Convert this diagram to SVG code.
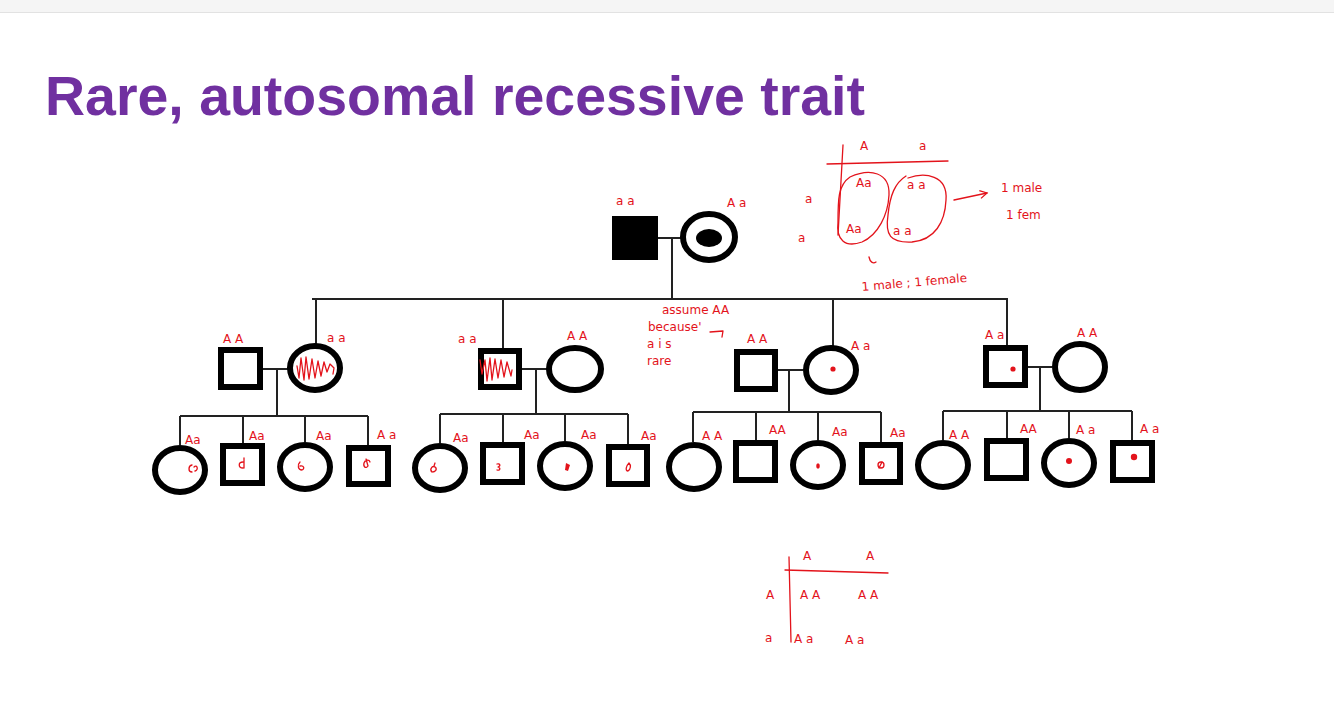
<svg xmlns="http://www.w3.org/2000/svg" width="1334" height="724" viewBox="0 0 1334 724">
<style>
.node{fill:#fff;stroke:#000;stroke-width:6}
.line{stroke:#222;stroke-width:2;fill:none}
.hw{font-family:"DejaVu Sans",sans-serif;font-size:12px;fill:#e3131b}
.ink{stroke:#e3131b;stroke-width:1.3;fill:none;stroke-linecap:round;stroke-linejoin:round}
.dot{fill:#e3131b}
</style>
<defs>
<marker id="arr" markerWidth="10" markerHeight="10" refX="8" refY="5" orient="auto" markerUnits="userSpaceOnUse">
<path d="M1 1 L8 5 L1 9" fill="none" stroke="#e3131b" stroke-width="1.3"/>
</marker>
</defs>
<rect x="0" y="0" width="1334" height="724" fill="#fff"/>
<rect x="0" y="0" width="1334" height="12" fill="#f5f5f5"/>
<line x1="0" y1="12.5" x2="1334" y2="12.5" stroke="#e2e2e2" stroke-width="1"/>
<text x="45" y="115" font-family="Liberation Sans, Arial, sans-serif" font-weight="bold" font-size="56" fill="#7030A0" textLength="820" lengthAdjust="spacingAndGlyphs">Rare, autosomal recessive trait</text>

<g id="connectors">
<line class="line" x1="658" y1="238" x2="682" y2="238"/>
<line class="line" x1="672" y1="238" x2="672" y2="299"/>
<line class="line" x1="312" y1="299" x2="1008" y2="299"/>
<line class="line" x1="316" y1="299" x2="316" y2="344"/>
<line class="line" x1="503" y1="299" x2="503" y2="348"/>
<line class="line" x1="833" y1="299" x2="833" y2="346"/>
<line class="line" x1="1007" y1="299" x2="1007" y2="345"/>
<line class="line" x1="263" y1="369" x2="288" y2="369"/>
<line class="line" x1="277" y1="369" x2="277" y2="416"/>
<line class="line" x1="522" y1="369" x2="547" y2="369"/>
<line class="line" x1="536" y1="369" x2="536" y2="414"/>
<line class="line" x1="778" y1="370" x2="803" y2="370"/>
<line class="line" x1="789" y1="370" x2="789" y2="412"/>
<line class="line" x1="1028" y1="367" x2="1052" y2="367"/>
<line class="line" x1="1040" y1="367" x2="1040" y2="411"/>
<line class="line" x1="180" y1="416" x2="368" y2="416"/>
<line class="line" x1="180" y1="416" x2="180" y2="445"/>
<line class="line" x1="243" y1="416" x2="243" y2="443"/>
<line class="line" x1="305" y1="416" x2="305" y2="442"/>
<line class="line" x1="368" y1="416" x2="368" y2="445"/>
<line class="line" x1="440" y1="414" x2="440" y2="443"/>
<line class="line" x1="440" y1="414" x2="628" y2="414"/>
<line class="line" x1="503" y1="414" x2="503" y2="442"/>
<line class="line" x1="565" y1="414" x2="565" y2="441"/>
<line class="line" x1="628" y1="414" x2="628" y2="444"/>
<line class="line" x1="693" y1="412" x2="881" y2="412"/>
<line class="line" x1="693" y1="412" x2="693" y2="442"/>
<line class="line" x1="756" y1="412" x2="756" y2="440"/>
<line class="line" x1="818" y1="412" x2="818" y2="440"/>
<line class="line" x1="881" y1="412" x2="881" y2="442"/>
<line class="line" x1="943" y1="411" x2="1132" y2="411"/>
<line class="line" x1="943" y1="411" x2="943" y2="440"/>
<line class="line" x1="1007" y1="411" x2="1007" y2="438"/>
<line class="line" x1="1069" y1="411" x2="1069" y2="438"/>
<line class="line" x1="1132" y1="411" x2="1132" y2="440"/>
</g>

<g id="gen1-father"><rect x="612" y="216" width="46" height="44" fill="#000"/></g>
<g id="gen1-mother"><ellipse class="node" cx="709" cy="237" rx="26" ry="23" stroke-width="7"/><ellipse cx="709" cy="238" rx="13" ry="9" fill="#000"/></g>

<g id="g2-1m"><rect class="node" x="221" y="350" width="39" height="37"/></g>
<g id="g2-1f"><ellipse class="node" cx="315" cy="368" rx="25" ry="22"/>
<polyline class="ink" points="297,366 299,378 301,358 304,380 306,357 309,379 312,359 315,378 318,361 321,376 324,362 327,372 330,364 334,368 333,374"/></g>
<g id="g2-2m"><rect class="node" x="481" y="351" width="38" height="36"/>
<polyline class="ink" points="480,360 482,374 485,360 487,381 490,358 492,380 495,359 498,378 501,360 504,377 507,362 511,376 512,370"/></g>
<g id="g2-2f"><ellipse class="node" cx="575" cy="369" rx="26" ry="21"/></g>
<g id="g2-3m"><rect class="node" x="737" y="352" width="38" height="37"/></g>
<g id="g2-3f"><ellipse class="node" cx="831" cy="370" rx="25" ry="22"/><circle class="dot" cx="833" cy="369" r="2.6"/></g>
<g id="g2-4m"><rect class="node" x="986" y="348" width="39" height="37"/><circle class="dot" cx="1013" cy="369" r="2.6"/></g>
<g id="g2-4f"><ellipse class="node" cx="1080" cy="367" rx="25" ry="23"/></g>

<g id="g3-1a"><ellipse class="node" cx="180" cy="470" rx="25" ry="22"/><path class="ink" d="M192 465 C188 466,188 472,192 472 M194 467 C197 464,199 470,195 471"/></g>
<g id="g3-1b"><rect class="node" x="223" y="446" width="39" height="37"/><path class="ink" d="M243 462 C238 462,238 468,243 468 M244 458 L244 468"/></g>
<g id="g3-1c"><ellipse class="node" cx="305" cy="467" rx="25" ry="22"/><path class="ink" d="M300 462 C297 465,298 470,302 470 C305 469,304 465,300 466"/></g>
<g id="g3-1d"><rect class="node" x="349" y="448" width="39" height="36"/><path class="ink" d="M366 459 L368 466 C366 469,363 467,364 463 C365 460,369 459,370 462"/></g>

<g id="g3-2a"><ellipse class="node" cx="440" cy="468" rx="25" ry="22"/><path class="ink" d="M432 472 C429 469,433 464,436 468 C437 471,433 473,431 471 M434 466 L435 463"/></g>
<g id="g3-2b"><rect class="node" x="483" y="445" width="39" height="37"/><path class="ink" d="M497 464 C500 463,501 466,498 467 C501 468,500 471,497 470"/></g>
<g id="g3-2c"><ellipse class="node" cx="565" cy="466" rx="25" ry="22"/><path class="dot" d="M566 463 L570 465 L568 471 L565 470 Z"/></g>
<g id="g3-2d"><rect class="node" x="609" y="447" width="38" height="37"/><path class="ink" d="M629 463 C626 466,625 471,628 471 C631 469,631 465,629 463"/></g>

<g id="g3-3a"><ellipse class="node" cx="694" cy="467" rx="25" ry="22"/></g>
<g id="g3-3b"><rect class="node" x="736" y="443" width="39" height="37"/></g>
<g id="g3-3c"><ellipse class="node" cx="818" cy="465" rx="25" ry="22"/><ellipse class="dot" cx="818" cy="466" rx="1.8" ry="2.8"/></g>
<g id="g3-3d"><rect class="node" x="862" y="445" width="38" height="37"/><circle class="ink" cx="881" cy="465" r="3"/><path class="ink" d="M879 468 L882 462"/></g>

<g id="g3-4a"><ellipse class="node" cx="943" cy="465" rx="25" ry="22"/></g>
<g id="g3-4b"><rect class="node" x="987" y="441" width="39" height="37"/></g>
<g id="g3-4c"><ellipse class="node" cx="1069" cy="463" rx="25" ry="22"/><circle class="dot" cx="1069" cy="461" r="3"/></g>
<g id="g3-4d"><rect class="node" x="1113" y="443" width="39" height="37"/><circle class="dot" cx="1134" cy="457" r="3.2"/></g>

<g id="labels">
<text class="hw" x="616" y="205">a a</text>
<text class="hw" x="727" y="207">A a</text>
<text class="hw" x="223" y="343">A A</text>
<text class="hw" x="327" y="342">a a</text>
<text class="hw" x="458" y="343">a a</text>
<text class="hw" x="567" y="340">A A</text>
<text class="hw" x="747" y="343">A A</text>
<text class="hw" x="851" y="350">A a</text>
<text class="hw" x="985" y="339">A a</text>
<text class="hw" x="1077" y="337">A A</text>
<text class="hw" x="185" y="444">Aa</text>
<text class="hw" x="249" y="440">Aa</text>
<text class="hw" x="316" y="440">Aa</text>
<text class="hw" x="377" y="439">A a</text>
<text class="hw" x="453" y="442">Aa</text>
<text class="hw" x="524" y="439">Aa</text>
<text class="hw" x="581" y="439">Aa</text>
<text class="hw" x="641" y="440">Aa</text>
<text class="hw" x="702" y="440">A A</text>
<text class="hw" x="769" y="434">AA</text>
<text class="hw" x="832" y="436">Aa</text>
<text class="hw" x="890" y="437">Aa</text>
<text class="hw" x="949" y="439">A A</text>
<text class="hw" x="1020" y="433">AA</text>
<text class="hw" x="1076" y="434">A a</text>
<text class="hw" x="1140" y="433">A a</text>
</g>

<g id="note-assume">
<text class="hw" x="662" y="314">assume AA</text>
<text class="hw" x="648" y="331">because'</text>
<path class="ink" d="M710 332 L723 331 L722 337"/>
<text class="hw" x="647" y="348">a i s</text>
<text class="hw" x="647" y="365">rare</text>
</g>

<g id="punnett-top">
<text class="hw" x="860" y="150">A</text>
<text class="hw" x="919" y="150">a</text>
<line class="ink" x1="827" y1="164" x2="948" y2="161"/>
<line class="ink" x1="843" y1="145" x2="838" y2="235"/>
<text class="hw" x="805" y="203">a</text>
<text class="hw" x="798" y="242">a</text>
<text class="hw" x="856" y="187">Aa</text>
<text class="hw" x="907" y="189">a a</text>
<text class="hw" x="846" y="233">Aa</text>
<text class="hw" x="893" y="235">a a</text>
<path class="ink" d="M850 177 C870 168,890 172,889 195 C888 215,878 235,862 242 C845 248,836 240,838 222 C838 200,838 185,850 177 Z"/>
<path class="ink" d="M908 178 C925 172,948 175,946 200 C945 222,935 240,912 242 C890 243,885 235,888 215 C890 195,895 183,906 176"/>
<line class="ink" x1="954" y1="200" x2="987" y2="193" marker-end="url(#arr)"/>
<text class="hw" x="1001" y="192">1 male</text>
<text class="hw" x="1006" y="219">1 fem</text>
<path class="ink" d="M869 257 C870 262,873 264,876 262"/>
<text class="hw" x="862" y="291" transform="rotate(-5 862 291)" font-size="14">1 male ; 1 female</text>
</g>

<g id="punnett-bottom">
<text class="hw" x="803" y="560">A</text>
<text class="hw" x="866" y="560">A</text>
<line class="ink" x1="785" y1="570" x2="888" y2="573"/>
<line class="ink" x1="789" y1="557" x2="791" y2="642"/>
<text class="hw" x="766" y="599">A</text>
<text class="hw" x="765" y="642">a</text>
<text class="hw" x="800" y="599">A A</text>
<text class="hw" x="858" y="599">A A</text>
<text class="hw" x="794" y="643">A a</text>
<text class="hw" x="845" y="644">A a</text>
</g>
</svg>
